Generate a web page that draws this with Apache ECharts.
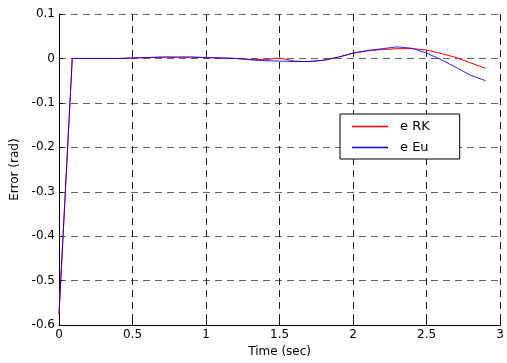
<!DOCTYPE html>
<html>
<head>
<meta charset="utf-8">
<script src="https://cdn.jsdelivr.net/npm/echarts@6/dist/echarts.min.js"></script>
<style>
  html, body { margin: 0; padding: 0; background: #fff; }
  #chart { width: 507px; height: 363px; }
</style>
</head>
<body>
<div id="chart"></div>
<script>
// Simulation time samples (s)
const timeSec = [0, 0.09, 0.2, 0.3, 0.4, 0.5, 0.6, 0.7, 0.8, 0.9, 1.0, 1.1, 1.2, 1.3, 1.4,
                 1.5, 1.6, 1.7, 1.8, 1.9, 2.0, 2.1, 2.2, 2.3, 2.4, 2.5, 2.6, 2.7, 2.8, 2.9];
// Tracking error, Runge-Kutta integration (rad)
const errRK = [-0.575, 0, 0, 0, 0, 0.001, 0.002, 0.003, 0.003, 0.003, 0.002, 0.001, 0, -0.002, -0.003,
               0.001, -0.006, -0.007, -0.004, 0.003, 0.012, 0.017, 0.020, 0.022, 0.022, 0.019, 0.011, 0.002, -0.010, -0.022];
// Tracking error, Euler integration (rad)
const errEu = [-0.575, 0, 0, 0, 0, 0.001, 0.002, 0.003, 0.003, 0.003, 0.002, 0.001, 0, -0.003, -0.005,
               -0.006, -0.007, -0.007, -0.004, 0.003, 0.012, 0.018, 0.022, 0.026, 0.023, 0.012, -0.003, -0.020, -0.038, -0.050];
const seriesNames = ['e RK', 'e Eu'];
const seriesColors = ['#ff0000', '#0000ff'];
const xTicks = { min: 0, max: 3, step: 0.5 };
const yTicks = { min: -0.6, max: 0.1, step: 0.1 };

const pairs = (vals) => timeSec.map((t, i) => [t, vals[i]]);
const font = 'DejaVu Sans, sans-serif';

const chart = echarts.init(document.getElementById('chart'), null, { renderer: 'canvas' });
chart.setOption({
  animation: false,
  backgroundColor: '#fff',
  color: seriesColors,
  grid: { left: 59, right: 6, top: 14, bottom: 35, containLabel: false },
  xAxis: {
    type: 'value', min: xTicks.min, max: xTicks.max, interval: xTicks.step,
    name: 'Time (sec)', nameLocation: 'middle', nameGap: 19,
    nameTextStyle: { color: '#000', fontSize: 12, fontFamily: font },
    axisLine: { show: true, onZero: false, lineStyle: { color: '#000', width: 1 } },
    axisTick: { show: true, inside: true, length: 4, lineStyle: { color: '#000' } },
    axisLabel: { color: '#000', fontSize: 12, fontFamily: font, margin: 4,
                 formatter: (v) => String(+v.toFixed(2)) },
    splitLine: { show: true, lineStyle: { color: '#222', type: [7, 5], width: 1 } }
  },
  yAxis: {
    type: 'value', min: yTicks.min, max: yTicks.max, interval: yTicks.step,
    name: 'Error (rad)', nameLocation: 'middle', nameGap: 36, nameRotate: 90,
    nameTextStyle: { color: '#000', fontSize: 12, fontFamily: font },
    axisLine: { show: true, onZero: false, lineStyle: { color: '#000', width: 1 } },
    axisTick: { show: true, inside: true, length: 4, lineStyle: { color: '#000' } },
    axisLabel: { color: '#000', fontSize: 12, fontFamily: font, margin: 4,
                 formatter: (v) => String(+v.toFixed(2)) },
    splitLine: { show: true, lineStyle: { color: '#666', type: [7, 5], width: 1 } }
  },
  legend: {
    orient: 'vertical', left: 340, top: 114,
    backgroundColor: '#fff', borderColor: '#000', borderWidth: 1,
    padding: [5, 30, 4, 12], itemGap: 6,
    itemWidth: 36, itemHeight: 1.5,
    textStyle: { color: '#000', fontSize: 13, lineHeight: 15, fontFamily: font, padding: [0, 0, 0, 7] },
    data: seriesNames.map((n, i) => ({
      name: n,
      icon: 'rect',
      itemStyle: { color: seriesColors[i], borderWidth: 0 }
    }))
  },
  series: [
    { name: seriesNames[0], type: 'line', data: pairs(errRK), showSymbol: false, symbol: 'none',
      lineStyle: { color: seriesColors[0], width: 1 }, itemStyle: { color: seriesColors[0] }, z: 3 },
    { name: seriesNames[1], type: 'line', data: pairs(errEu), showSymbol: false, symbol: 'none',
      lineStyle: { color: seriesColors[1], width: 1, opacity: 0.85 }, itemStyle: { color: seriesColors[1] }, z: 4 }
  ]
});
</script>
</body>
</html>
